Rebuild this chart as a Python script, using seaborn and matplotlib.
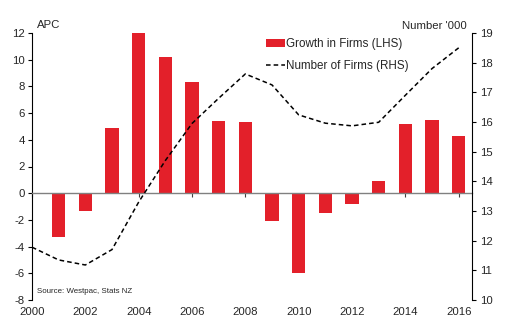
import matplotlib
matplotlib.use("Agg")
import matplotlib.pyplot as plt
import seaborn as sns
import numpy as np
import pandas as pd
from matplotlib.patches import Patch
from matplotlib.lines import Line2D

years = list(range(2000, 2017))
growth = [np.nan, -3.3, -1.35, 4.9, 12.05, 10.2, 8.3, 5.4, 5.3, -2.1, -6.0, -1.5, -0.8, 0.9, 5.2, 5.5, 4.3]
firms = [11.78, 11.35, 11.18, 11.7, 13.3, 14.7, 15.95, 16.8, 17.62, 17.25, 16.24, 15.96, 15.87, 15.99, 16.9, 17.8, 18.5]
left_ticks = list(range(-8, 13, 2))
right_ticks = list(range(10, 20))
x_ticks = list(range(2000, 2017, 2))

sns.set_style("white")
plt.rcParams['font.family'] = ['Liberation Sans', 'DejaVu Sans']
plt.rcParams['axes.unicode_minus'] = False

df = pd.DataFrame({"year": years, "growth": growth, "firms": firms})
bar_df = df.dropna(subset=["growth"])

fig = plt.figure(figsize=(5.08, 3.32), dpi=100)
ax = fig.add_axes([32/508, 1-300/332, 440/508, 267/332])
red = "#E3202A"
sns.barplot(data=bar_df, x="year", y="growth", native_scale=True, width=0.5,
            color=red, saturation=1, ax=ax, linewidth=0, errorbar=None)
ax.set_xlim(2000, 2016.5)
ax.set_ylim(-8, 12)
ax.set_yticks(left_ticks)
ax.set_xlabel("")
ax.set_ylabel("")
fs = 8.2
ax.tick_params(axis='y', left=True, length=3, width=0.8, color='black', labelsize=fs, pad=2)
ax.spines['top'].set_visible(False)
ax.spines['right'].set_visible(False)
ax.spines['left'].set_color('black')
ax.spines['left'].set_linewidth(0.8)
ax.spines['bottom'].set_position(('data', 0))
ax.spines['bottom'].set_color('#808080')
ax.spines['bottom'].set_linewidth(1.0)
ax.set_xticks(x_ticks)
ax.tick_params(axis='x', bottom=True, length=3, width=0.8, color='#404040', labelbottom=False)

sec = ax.secondary_xaxis(0)
sec.set_xticks(x_ticks)
sec.set_xticklabels([str(y) for y in x_ticks])
sec.tick_params(length=0, labelsize=fs, pad=5)
sec.spines['bottom'].set_visible(False)

ax2 = ax.twinx()
sns.lineplot(data=df, x="year", y="firms", ax=ax2, color='black', linestyle=(0, (3, 2)), linewidth=1.1)
ax2.set_ylim(10, 19)
ax2.set_yticks(right_ticks)
ax2.set_xlim(2000, 2016.5)
ax2.set_ylabel("")
ax2.set_xlabel("")
for s in ['top', 'left', 'bottom']:
    ax2.spines[s].set_visible(False)
ax2.spines['right'].set_color('black')
ax2.spines['right'].set_linewidth(0.8)
ax2.tick_params(axis='y', right=True, length=3, width=0.8, color='black', labelsize=fs, pad=3)

fig.text(37/508, 1-25/332, "APC", fontsize=fs, va='center', ha='left')
fig.text(467/508, 1-26/332, "Number '000", fontsize=fs, va='center', ha='right')
ax.text(2000.2, -7.35, "Source: Westpac, Stats NZ", fontsize=5.7, va='center', ha='left')

handles = [Patch(facecolor=red, edgecolor='none'),
           Line2D([0], [0], color='black', linestyle=(0, (3, 2)), linewidth=1.1)]
labels = ["Growth in Firms (LHS)", "Number of Firms (RHS)"]
fig.legend(handles, labels, loc='upper left', bbox_to_anchor=(266/508, 1-38/332),
           frameon=False, fontsize=8.4, handlelength=1.6, handletextpad=0.1,
           labelspacing=0.85, borderpad=0, borderaxespad=0)

fig.savefig("out.png", dpi=100)
